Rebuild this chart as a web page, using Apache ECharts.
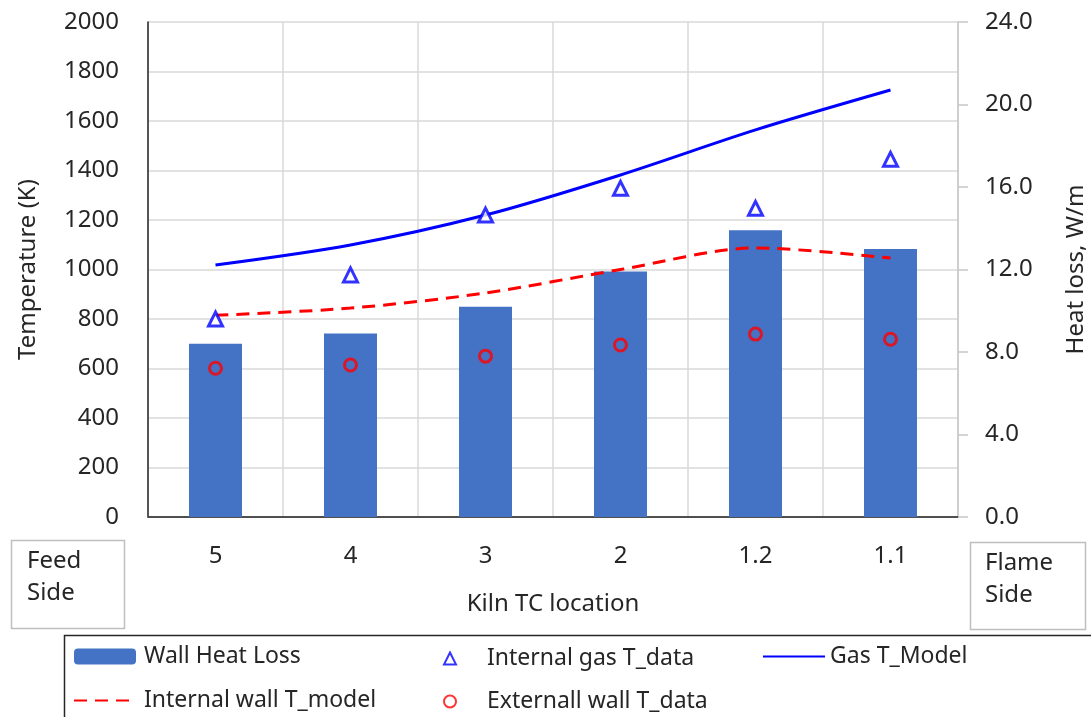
<!DOCTYPE html>
<html>
<head>
<meta charset="utf-8">
<script src="https://cdn.jsdelivr.net/npm/echarts@6/dist/echarts.min.js"></script>
<style>
  html, body { margin: 0; padding: 0; background: #fff; }
</style>
</head>
<body>
<div id="main" style="width:1091px; height:717px"></div>
<script>
// kiln TC locations, feed side -> flame side
var categories = ['5', '4', '3', '2', '1.2', '1.1'];
// W/m, right axis
var heatLoss = [8.4, 8.9, 10.2, 11.9, 13.9, 13.0];
// K, left axis
var gasData = [800, 978, 1220, 1328, 1247, 1445];
var gasModel = [1018, 1099, 1220, 1382, 1564, 1725];
var wallModel = [815, 844, 905, 1000, 1087, 1046];
var extWallData = [601, 614, 650, 695, 739, 718];

var FONT = 'Noto Sans';
var TXT = '#262626';
var FS = 24;

var chartDom = document.getElementById('main');
var myChart = echarts.init(chartDom);
var option;

option = {
  backgroundColor: '#fff',
  animation: false,
  textStyle: { fontFamily: FONT },
  grid: { left: 148, right: 133, top: 22, bottom: 200, outerBoundsMode: 'none', containLabel: false },
  legend: [
    {
      left: 73, top: 645, height: 90, padding: 0,
      orient: 'vertical', itemGap: 21,
      itemWidth: 62, itemHeight: 16,
      textStyle: { fontFamily: FONT, fontSize: 23, color: TXT, padding: [0, 0, 0, 3] },
      data: [
        { name: 'Wall Heat Loss' },
        { name: 'Internal wall T_model', itemStyle: { opacity: 0 } }
      ]
    },
    {
      left: 443, top: 647, height: 90, padding: 0,
      orient: 'vertical', itemGap: 20,
      itemWidth: 12, itemHeight: 12,
      textStyle: { fontFamily: FONT, fontSize: 23, color: TXT, padding: [0, 0, 0, 26] },
      data: [
        { name: 'Internal gas T_data', icon: 'triangle' },
        { name: 'Externall wall T_data', icon: 'circle' }
      ]
    },
    {
      left: 762, top: 645, height: 90, padding: 0,
      orient: 'vertical',
      itemWidth: 62, itemHeight: 16,
      textStyle: { fontFamily: FONT, fontSize: 23, color: TXT },
      data: [{ name: 'Gas T_Model', itemStyle: { opacity: 0 } }]
    }
  ],
  xAxis: [
    {
      type: 'category',
      data: categories,
      boundaryGap: true,
      name: 'Kiln TC location',
      nameLocation: 'middle',
      nameGap: 75,
      nameTextStyle: { fontFamily: FONT, fontSize: FS, color: TXT },
      axisLine: { lineStyle: { color: '#c8c8c8', width: 1.5 } },
      axisTick: { show: false },
      axisLabel: { margin: 27, fontFamily: FONT, fontSize: FS, color: TXT },
      splitLine: { show: true, lineStyle: { color: '#d9d9d9', width: 1.5 } }
    },
    {
      // only the dark top edge of the plot
      type: 'category',
      data: categories,
      position: 'top',
      axisLine: { lineStyle: { color: '#262626', width: 1.5 } },
      axisTick: { show: false },
      axisLabel: { show: false },
      splitLine: { show: false }
    }
  ],
  yAxis: [
    {
      type: 'value',
      min: 0, max: 2000, interval: 200,
      name: 'Temperature (K)',
      nameLocation: 'middle',
      nameRotate: 90,
      nameGap: 108,
      nameTextStyle: { fontFamily: FONT, fontSize: FS, color: TXT },
      axisLine: { show: true, lineStyle: { color: '#262626', width: 1.5 } },
      axisTick: { show: false },
      axisLabel: {
        margin: 29, fontFamily: FONT, fontSize: FS, color: TXT,
        formatter: function (v) { return String(v); }
      },
      splitLine: { show: true, lineStyle: { color: '#d9d9d9', width: 1.5 } }
    },
    {
      type: 'value',
      min: 0, max: 24, interval: 4,
      position: 'right',
      name: 'Heat loss, W/m',
      nameLocation: 'middle',
      nameRotate: 90,
      nameGap: 106,
      nameTextStyle: { fontFamily: FONT, fontSize: FS, color: TXT },
      axisLine: { show: true, lineStyle: { color: '#c8c8c8', width: 1.5 } },
      axisTick: { show: true, length: 10, lineStyle: { color: '#c8c8c8', width: 1.5 } },
      axisLabel: {
        margin: 27, fontFamily: FONT, fontSize: FS, color: TXT,
        formatter: function (v) { return v.toFixed(1); }
      },
      splitLine: { show: false }
    }
  ],
  graphic: [
    {
      type: 'rect', left: 9, top: 538,
      shape: { width: 113, height: 88 },
      style: { fill: 'none', stroke: '#bfbfbf', lineWidth: 1.5 }
    },
    {
      type: 'text', left: 27, top: 545,
      style: { text: 'Feed\nSide', font: '24px "Noto Sans"', fill: TXT, lineHeight: 32 }
    },
    {
      type: 'rect', left: 968, top: 540,
      shape: { width: 115, height: 87 },
      style: { fill: 'none', stroke: '#bfbfbf', lineWidth: 1.5 }
    },
    {
      type: 'text', left: 985, top: 547,
      style: { text: 'Flame\nSide', font: '24px "Noto Sans"', fill: TXT, lineHeight: 32 }
    },
    {
      type: 'rect', left: 62, top: 633,
      shape: { width: 1040, height: 100 },
      style: { fill: 'none', stroke: '#262626', lineWidth: 1.5 }
    }
  ],
  series: [
    {
      name: 'Wall Heat Loss',
      type: 'bar',
      yAxisIndex: 1,
      data: heatLoss,
      barWidth: 53,
      color: '#4472c4',
      z: 1
    },
    {
      name: 'Gas T_Model',
      type: 'line',
      data: gasModel,
      smooth: 0.3,
      symbol: 'none',
      color: '#0000ff',
      lineStyle: { width: 3, color: '#0000ff' },
      z: 3
    },
    {
      name: 'Internal wall T_model',
      type: 'line',
      data: wallModel,
      smooth: 0.3,
      symbol: 'none',
      color: '#ff0000',
      lineStyle: { width: 3, color: '#ff0000', type: [13, 8] },
      z: 3
    },
    {
      name: 'Internal gas T_data',
      type: 'scatter',
      data: gasData,
      symbol: 'triangle',
      symbolSize: 14,
      symbolKeepAspect: true,
      itemStyle: { color: '#ffffff', borderColor: '#0000ff', borderWidth: 3 },
      z: 4
    },
    {
      name: 'Externall wall T_data',
      type: 'scatter',
      data: extWallData,
      symbol: 'circle',
      symbolSize: 12,
      symbolKeepAspect: true,
      itemStyle: { color: 'rgba(0,0,0,0)', borderColor: '#ff0000', borderWidth: 3 },
      z: 4
    }
  ]
};

option && myChart.setOption(option);
</script>
</body>
</html>
